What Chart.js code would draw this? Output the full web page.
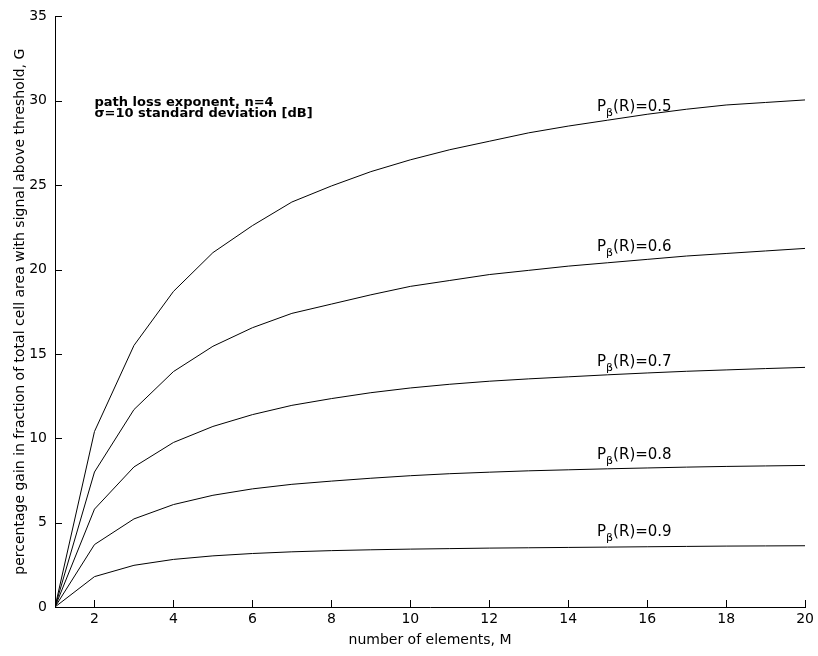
<!DOCTYPE html>
<html>
<head>
<meta charset="utf-8">
<script src="https://cdn.jsdelivr.net/npm/chart.js@4"></script>
<style>
  body { margin: 0; background: #fff; }
  #wrap { width: 818px; height: 656px; }
</style>
</head>
<body>
<div id="wrap"><canvas id="gainChart" width="818" height="656"></canvas></div>
<script>
// number of elements M
const elements = [1, 2, 3, 4, 5, 6, 7, 8, 9, 10, 11, 12, 13, 14, 15, 16, 17, 18, 19, 20];

// gain G for each P_beta(R)
const gain05 = [0, 10.4, 15.5, 18.7, 21.0, 22.6, 24.0, 24.95, 25.8, 26.5, 27.1, 27.6, 28.1, 28.5, 28.85, 29.2, 29.5, 29.75, 29.9, 30.05];
const gain06 = [0, 8.0, 11.7, 13.95, 15.45, 16.55, 17.4, 17.95, 18.5, 19.0, 19.35, 19.7, 19.95, 20.2, 20.4, 20.6, 20.8, 20.95, 21.1, 21.25];
const gain07 = [0, 5.8, 8.3, 9.75, 10.7, 11.4, 11.95, 12.35, 12.7, 12.98, 13.2, 13.38, 13.52, 13.64, 13.76, 13.87, 13.97, 14.05, 14.13, 14.2];
const gain08 = [0, 3.7, 5.22, 6.07, 6.62, 7.0, 7.27, 7.46, 7.63, 7.78, 7.9, 7.99, 8.07, 8.13, 8.19, 8.24, 8.29, 8.33, 8.36, 8.39];
const gain09 = [0, 1.8, 2.47, 2.82, 3.03, 3.17, 3.27, 3.34, 3.39, 3.43, 3.46, 3.49, 3.51, 3.53, 3.55, 3.57, 3.59, 3.61, 3.62, 3.63];

const probLabels = ['0.5', '0.6', '0.7', '0.8', '0.9'];
const labelAtM = 14.73;
const labelAtG = [29.39, 21.1, 14.3, 8.78, 4.18];

const xTickValues = [2, 4, 6, 8, 10, 12, 14, 16, 18, 20];
const yTickValues = [0, 5, 10, 15, 20, 25, 30, 35];

const noteLines = ['path loss exponent, n=4', 'σ=10 standard deviation [dB]'];
const noteAt = { m: 2, g: 29.7 };

const FONT = "'DejaVu Sans', sans-serif";

// inward tick marks + curve labels + note
const extrasPlugin = {
    id: 'extras',
    afterDraw(chart) {
        const ctx = chart.ctx;
        const xs = chart.scales.x;
        const ys = chart.scales.y;
        const area = chart.chartArea;
        ctx.save();
        ctx.strokeStyle = '#000';
        ctx.lineWidth = 1;
        ctx.beginPath();
        yTickValues.forEach(v => {
            const py = Math.round(ys.getPixelForValue(v)) + 0.5;
            ctx.moveTo(area.left, py);
            ctx.lineTo(area.left + 7, py);
        });
        xTickValues.forEach(v => {
            const px = Math.round(xs.getPixelForValue(v)) + 0.5;
            ctx.moveTo(px, area.bottom);
            ctx.lineTo(px, area.bottom - 7);
        });
        ctx.stroke();

        ctx.fillStyle = '#000';
        ctx.textBaseline = 'alphabetic';
        ctx.textAlign = 'left';
        probLabels.forEach((p, i) => {
            let px = xs.getPixelForValue(labelAtM);
            const py = ys.getPixelForValue(labelAtG[i]);
            ctx.font = '15px ' + FONT;
            ctx.fillText('P', px, py);
            px += ctx.measureText('P').width;
            ctx.font = '11px ' + FONT;
            ctx.fillText('β', px, py + 5);
            px += ctx.measureText('β').width;
            ctx.font = '15px ' + FONT;
            ctx.fillText('(R)=' + p, px, py);
        });

        ctx.font = 'bold 13px ' + FONT;
        const nx = xs.getPixelForValue(noteAt.m);
        const ny = ys.getPixelForValue(noteAt.g);
        noteLines.forEach((t, i) => ctx.fillText(t, nx, ny + i * 11));
        ctx.restore();
    }
};

function makeSet(data) {
    return {
        data: data.map((g, i) => ({ x: elements[i], y: g })),
        borderColor: '#000',
        borderWidth: 1,
        pointRadius: 0,
        tension: 0,
        fill: false
    };
}

const ctx = document.getElementById('gainChart').getContext('2d');
const gainChart = new Chart(ctx, {
    type: 'line',
    data: {
        datasets: [makeSet(gain05), makeSet(gain06), makeSet(gain07), makeSet(gain08), makeSet(gain09)]
    },
    options: {
        responsive: false,
        animation: false,
        layout: { padding: { top: 15, right: 10, left: 0, bottom: 0 } },
        plugins: { legend: { display: false }, tooltip: { enabled: false } },
        scales: {
            x: {
                type: 'linear',
                min: 1,
                max: 20,
                afterBuildTicks: scale => { scale.ticks = xTickValues.map(v => ({ value: v })); },
                afterFit: scale => { scale.height = 49; },
                grid: { drawOnChartArea: false, drawTicks: false },
                border: { display: true, color: '#000', width: 1 },
                ticks: { color: '#000', font: { family: FONT, size: 14 }, padding: 4, maxRotation: 0 },
                title: {
                    display: true,
                    text: 'number of elements, M',
                    color: '#000',
                    font: { family: FONT, size: 14 },
                    padding: { top: 0, bottom: 7.6 }
                }
            },
            y: {
                min: 0,
                max: 35,
                afterBuildTicks: scale => { scale.ticks = yTickValues.map(v => ({ value: v })); },
                afterFit: scale => { scale.width = 55; },
                grid: { drawOnChartArea: false, drawTicks: false },
                border: { display: true, color: '#000', width: 1 },
                ticks: { color: '#000', font: { family: FONT, size: 14 }, padding: 8 },
                title: {
                    display: true,
                    text: 'percentage gain in fraction of total cell area with signal above threshold, G',
                    color: '#000',
                    font: { family: FONT, size: 14 },
                    padding: { top: 11.6, bottom: 0 }
                }
            }
        }
    },
    plugins: [extrasPlugin]
});
</script>
</body>
</html>
